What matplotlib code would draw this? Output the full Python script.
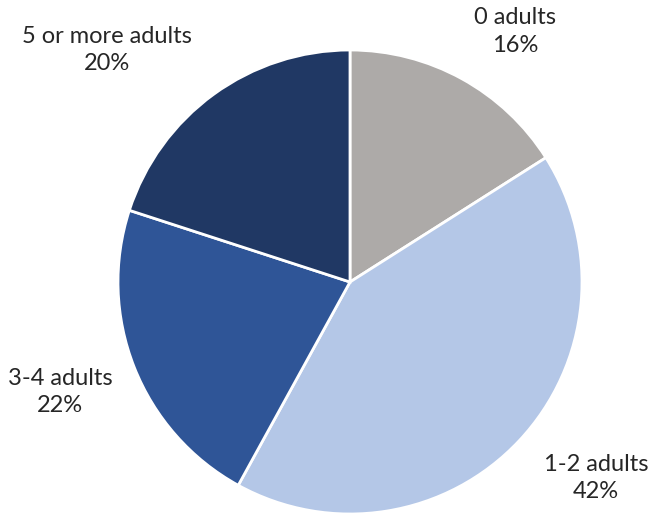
import matplotlib
matplotlib.use("Agg")
import matplotlib.pyplot as plt

# household adults share
labels = ["0 adults", "1-2 adults", "3-4 adults", "5 or more adults"]
shares = [16, 42, 22, 20]
colors = ["#ADAAA8", "#B4C7E7", "#2F5597", "#203864"]

# label anchor spots (relative to pie radius)
label_pos = [(0.71, 1.08), (1.06, -0.845), (-1.25, -0.474), (-1.047, 1.0)]

plt.rcParams['font.family'] = ['Lato', 'DejaVu Sans']

fig = plt.figure(figsize=(6.54, 5.18), dpi=100)
cx, cy, r = 350, 282, 232
ax = fig.add_axes([(cx - r) / 654, (518 - cy - r) / 518, 2 * r / 654, 2 * r / 518])
ax.pie(shares, colors=colors, startangle=90, counterclock=False, radius=1,
       wedgeprops=dict(edgecolor="white", linewidth=2))
ax.set_xlim(-1, 1)
ax.set_ylim(-1, 1)
ax.axis("off")

for lab, val, (x, y) in zip(labels, shares, label_pos):
    ax.text(x, y, f"{lab}\n{val}%", ha="center", va="center", fontsize=17,
            color="#262626", linespacing=1.4, clip_on=False)

fig.savefig("out.png", dpi=100)
